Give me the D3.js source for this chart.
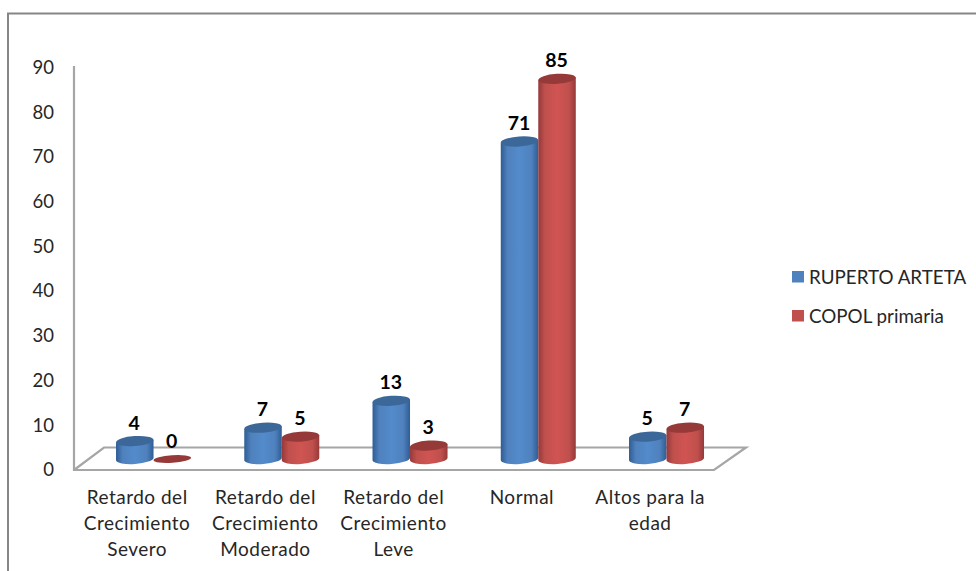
<!DOCTYPE html>
<html>
<head>
<meta charset="utf-8">
<script src="https://cdn.jsdelivr.net/npm/d3@7/dist/d3.min.js"></script>
<style>
  html, body { margin: 0; padding: 0; background: #fff; }
  svg { display: block; }
  text { font-family: Lato, "Open Sans", sans-serif; fill: #262626; }
</style>
</head>
<body>
<svg id="chart" width="976" height="571"></svg>
<script>
const categories = [
  ["Retardo del", "Crecimiento", "Severo"],
  ["Retardo del", "Crecimiento", "Moderado"],
  ["Retardo del", "Crecimiento", "Leve"],
  ["Normal"],
  ["Altos para la", "edad"]
];
const seriesNames = ["RUPERTO ARTETA", "COPOL primaria"];
const rupertoArteta = [4, 7, 13, 71, 5];
const copolPrimaria = [0, 5, 3, 85, 7];
const yTicks = [0, 10, 20, 30, 40, 50, 60, 70, 80, 90];

const svg = d3.select("#chart");
const idx = d3.range(categories.length);

// Front plane scales drive the axis labels; the cylinders stand further back on the floor.
const yAxisScale = d3.scaleLinear().domain([0, 90]).range([469.5, 67]);
const yBar = d3.scaleLinear().domain([0, 90]).range([459, 56.5]);
const xBack = d3.scaleBand().domain(idx).range([89.4, 730.65]).padding(0);
const xFront = d3.scaleBand().domain(idx).range([73, 714.25]).padding(0);
const xInner = d3.scaleBand().domain([0, 1]).range([-37.5, 37.5]);

const rx = 18.8, ry = 5, tilt = -4;
const tiltRad = tilt * Math.PI / 180;
const dx = rx * Math.cos(tiltRad), dy = rx * Math.sin(tiltRad);

// Chart frame, cut off by the right and bottom page edges
svg.append("path")
  .attr("d", "M8,571V13.5H976")
  .attr("fill", "none").attr("stroke", "#868686").attr("stroke-width", 2);

// Gradients that give the cylinders their round look
const defs = svg.append("defs");
const palettes = [
  { id: "g0", edge: "#2f5d94", mid: "#538bcb", top: "#3c6899", side: "#4f81bd" },
  { id: "g1", edge: "#96393a", mid: "#d05452", top: "#953a39", side: "#c0504d" }
];
palettes.forEach(p => {
  const g = defs.append("linearGradient").attr("id", p.id)
    .attr("x1", 0).attr("x2", 1).attr("y1", 0).attr("y2", 0);
  [[0, p.edge], [0.18, p.side], [0.5, p.mid], [0.82, p.side], [1, p.edge]].forEach(s =>
    g.append("stop").attr("offset", s[0]).attr("stop-color", s[1]));
});

// Floor of the 3D plot and vertical axis
svg.append("path")
  .attr("d", "M74,66V470H714L746,447.5H104L74,470")
  .attr("fill", "none").attr("stroke", "#a6a6a6").attr("stroke-width", 2.2);

// Vertical axis labels
const axis = d3.axisLeft(yAxisScale).tickValues(yTicks).tickSize(0).tickPadding(20);
const axisG = svg.append("g").attr("transform", "translate(74,0)").call(axis);
axisG.select(".domain").remove();
axisG.selectAll("text")
  .style("font-size", "18.5px")
  .attr("dy", "0.34em");

// Cylinders and their value labels
[rupertoArteta, copolPrimaria].forEach((values, s) => {
  const pal = palettes[s];
  const g = svg.append("g");
  values.forEach((v, i) => {
    const cx = xBack(i) + xBack.bandwidth() / 2 + xInner(s) + xInner.bandwidth() / 2;
    const yb = yBar(0), yt = yBar(v);
    if (v > 0) {
      g.append("path")
        .attr("d", `M${cx - dx},${yt - dy}L${cx - dx},${yb - dy}` +
                   `A${rx},${ry} ${tilt} 0 0 ${cx + dx},${yb + dy}` +
                   `L${cx + dx},${yt + dy}Z`)
        .attr("fill", `url(#${pal.id})`);
    }
    g.append("ellipse")
      .attr("cx", cx).attr("cy", yt)
      .attr("rx", rx).attr("ry", v > 0 ? ry : 3.8)
      .attr("transform", `rotate(${tilt} ${cx} ${yt})`)
      .attr("fill", pal.top);
    g.append("text")
      .attr("x", cx - 0.5).attr("y", yt - 11.5)
      .attr("text-anchor", "middle")
      .style("font-size", "19.5px").style("font-weight", 700).style("fill", "#000")
      .text(v);
  });
});

// Category labels, wrapped across lines
categories.forEach((lines, i) => {
  const t = svg.append("text")
    .attr("text-anchor", "middle")
    .style("font-size", "19px")
    .style("letter-spacing", "0.5px");
  lines.forEach((line, k) => {
    t.append("tspan")
      .attr("x", xFront(i) + xFront.bandwidth() / 2)
      .attr("y", 504 + k * 26)
      .text(line);
  });
});

// Legend
const legendY = d3.scalePoint().domain(seriesNames).range([277, 316]);
seriesNames.forEach((name, s) => {
  svg.append("rect")
    .attr("x", 792).attr("y", legendY(name) - 6)
    .attr("width", 12).attr("height", 11.5)
    .attr("fill", palettes[s].side);
  svg.append("text")
    .attr("x", 809).attr("y", legendY(name) + 7)
    .style("font-size", "18.8px")
    .text(name);
});
</script>
</body>
</html>
